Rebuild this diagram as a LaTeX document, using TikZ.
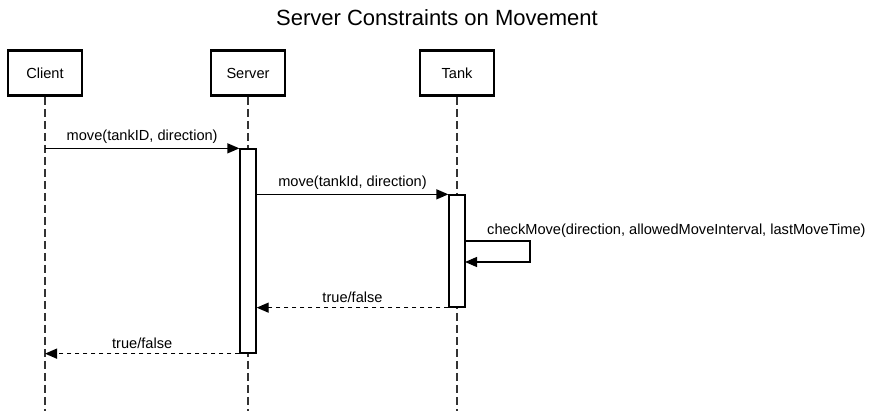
\documentclass[tikz,border=0pt]{standalone}
\usepackage{fontspec}
\setmainfont{Liberation Sans}
\usetikzlibrary{arrows.meta}
\begin{document}
\begin{tikzpicture}[x=1pt,y=-1pt,
  actor/.style={draw, line width=2.6pt, minimum width=74pt, minimum height=45pt, font=\fontsize{14.6}{16}\selectfont, fill=white, inner sep=0pt},
  lifeline/.style={draw=black!80, line width=1.3pt, dash pattern=on 8pt off 4pt},
  act/.style={draw, line width=1.3pt, fill=white, minimum width=16pt, inner sep=0pt},
  msg/.style={line width=1.3pt, -{Triangle[length=12pt,width=10pt]}},
  ret/.style={line width=1.3pt, dash pattern=on 4pt off 4pt, -{Triangle[length=12pt,width=10pt]}},
  lbl/.style={font=\fontsize{14.6}{16}\selectfont, inner sep=0pt}]
\useasboundingbox (0,0) rectangle (874,411);
\node[font=\fontsize{22}{26}\selectfont] (title) at (437,18) {Server Constraints on Movement};
\node[actor] (client) at (45,73) {Client};
\node[actor] (server) at (248,73) {Server};
\node[actor] (tank) at (457,73) {Tank};
\coordinate (cend) at (45,411);
\coordinate (send) at (248,411);
\coordinate (tend) at (457,411);
\draw[lifeline] (client.south) -- (cend);
\draw[lifeline] (server.south) -- (send);
\draw[lifeline] (tank.south) -- (tend);
\node[act, minimum height=204pt] (sact) at (248,251) {};
\node[act, minimum height=112pt] (tact) at (457,251) {};
% messages
\draw[msg] (client.south |- sact.north) -- (sact.north west)
  node[lbl, pos=0.5, above=4pt] (m1) {move(tankID, direction)};
\draw[msg] (sact.east |- tact.north) -- (tact.north west)
  node[lbl, pos=0.5, above=4pt] (m2) {move(tankId, direction)};
\coordinate (l1) at (465,241);
\coordinate (l2) at (530,241);
\coordinate (l3) at (530,262);
\coordinate (l4) at (465,262);
\draw[msg] (l1) -- (l2) -- (l3) -- (l4);
\node[lbl, anchor=base west] (m3) at (487,235) {checkMove(direction, allowedMoveInterval, lastMoveTime)};
\draw[ret] (tact.south west) -- (sact.east |- tact.south)
  node[lbl, pos=0.5, above=4pt] (r1) {true/false};
\draw[ret] (sact.south west) -- (client.south |- sact.south)
  node[lbl, pos=0.5, above=4pt] (r2) {true/false};
\end{tikzpicture}
\end{document}
